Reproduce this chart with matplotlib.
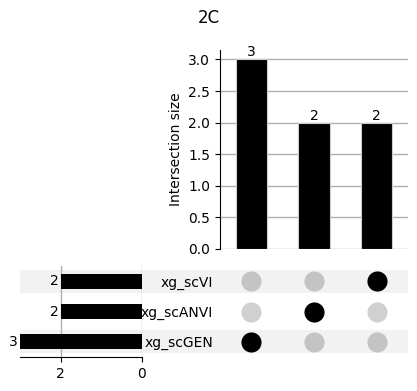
import matplotlib
matplotlib.use("Agg")
import matplotlib.pyplot as plt
from matplotlib.patches import Rectangle
from matplotlib.transforms import blended_transform_factory

# Data
sets = ["xg_scGEN", "xg_scANVI", "xg_scVI"]          # bottom to top
set_totals = [3, 2, 2]
intersection_sizes = [3, 2, 2]
intersection_members = [["xg_scGEN"], ["xg_scANVI"], ["xg_scVI"]]
title = "2C"

W, H = 417, 391
fig = plt.figure(figsize=(W / 100, H / 100), dpi=100)

def fx(px):
    return px / W

def fy(py):
    return 1 - py / H

# Axes positions (pixel-derived)
ax_tot = fig.add_axes([fx(20), fy(357), fx(142) - fx(20), fy(266) - fy(357)])
ax_int = fig.add_axes([fx(220), fy(249), fx(408) - fx(220), fy(50) - fy(249)])
ax_mat = fig.add_axes([fx(220), fy(357), fx(408) - fx(220), fy(266) - fy(357)])

for a in (ax_mat, ax_tot):
    a.set_facecolor("none")

n = len(intersection_sizes)
xs = list(range(n))
ys = list(range(len(sets)))

# Shading bands across the figure
trans = blended_transform_factory(fig.transFigure, ax_mat.transData)
for i in ys:
    if i % 2 == 0:
        fig.patches.append(Rectangle((fx(20), i - 0.38), fx(408) - fx(20), 0.76,
                                     transform=trans, facecolor="#f2f2f2",
                                     edgecolor="none", zorder=-10))

# Intersection bars
ax_int.bar(xs, intersection_sizes, width=0.5, color="black",
           edgecolor="#cccccc", linewidth=0.8, zorder=3)
for x, v in zip(xs, intersection_sizes):
    ax_int.text(x, v, str(v), ha="center", va="bottom", fontsize=10)
ax_int.set_xlim(-0.5, 2.5)
ax_int.set_ylim(0, 3.15)
ax_int.set_yticks([0, 0.5, 1.0, 1.5, 2.0, 2.5, 3.0])
ax_int.set_xticks([])
ax_int.yaxis.grid(True, color="#b0b0b0", linewidth=1, zorder=0)
ax_int.set_axisbelow(True)
for s in ("top", "right", "bottom"):
    ax_int.spines[s].set_visible(False)
ax_int.set_ylabel("Intersection size")

# Matrix
ax_mat.set_xlim(-0.5, 2.5)
ax_mat.set_ylim(-0.5, 2.5)
for x, members in zip(xs, intersection_members):
    for y, s in zip(ys, sets):
        if s in members:
            c = "black"
        else:
            c = "#c4c4c4" if y % 2 == 0 else "#d0d0d0"
        ax_mat.scatter([x], [y], s=210, color=c, zorder=3, linewidths=0)
ax_mat.set_xticks([])
ax_mat.set_yticks(ys)
ax_mat.set_yticklabels(sets, fontsize=10)
ax_mat.tick_params(axis="y", length=0, pad=5)
for s in ax_mat.spines.values():
    s.set_visible(False)

# Totals
ax_tot.barh(ys, set_totals, height=0.5, color="black", zorder=3)
for y, v in zip(ys, set_totals):
    ax_tot.text(v + 0.05, y, str(v), ha="right", va="center", fontsize=10)
ax_tot.set_xlim(3, 0)
ax_tot.set_ylim(-0.5, 2.5)
ax_tot.set_xticks([2, 0])
ax_tot.set_yticks([])
ax_tot.xaxis.grid(True, color="#b0b0b0", linewidth=1, zorder=0)
ax_tot.set_axisbelow(True)
for s in ("top", "right", "left"):
    ax_tot.spines[s].set_visible(False)

fig.suptitle(title, fontsize=12, y=fy(18), va="center")

fig.savefig("out.png", dpi=100)
